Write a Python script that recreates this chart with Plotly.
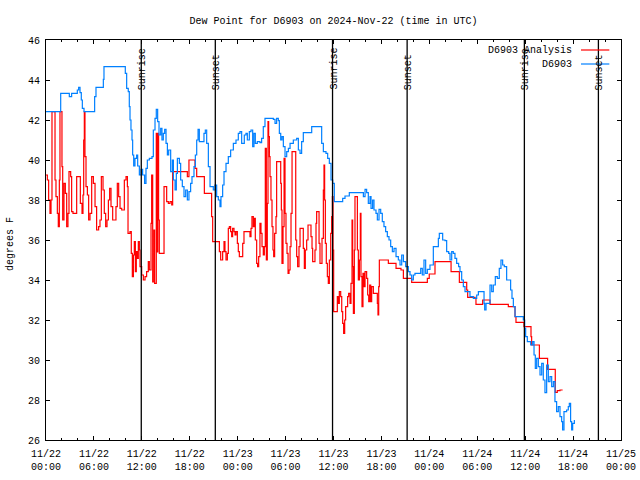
import plotly.graph_objects as go

# ---- data (hours since 2024-11-22 00:00 UTC) ----
obs_hours = [0.00, 1.84, 2.92, 3.21, 3.92, 4.09, 4.26, 4.42, 4.55, 4.76, 6.09, 6.26, 7.18, 7.26, 9.93, 10.10,
             10.30, 10.43, 10.52, 10.64, 10.77, 10.85, 10.98, 11.14, 11.35, 11.48, 11.69, 11.90, 12.10, 12.35,
             12.52, 12.69, 12.94, 13.27, 13.44, 13.65, 13.81, 13.98, 14.15, 14.36, 14.52, 14.69, 14.86, 15.03,
             15.20, 15.36, 15.61, 15.82, 15.95, 16.16, 16.32, 16.45, 16.70, 16.86, 17.07, 17.28, 17.49, 17.70,
             17.90, 18.11, 18.28, 18.53, 18.70, 18.87, 19.04, 19.20, 19.78, 19.95, 20.12, 20.33, 20.54, 20.95,
             21.16, 21.37, 21.58, 21.79, 21.91, 22.12, 22.29, 22.54, 22.83, 23.12, 23.46, 23.79, 24.08, 24.29,
             24.50, 24.83, 25.04, 25.21, 25.46, 25.67, 25.88, 26.04, 26.21, 26.46, 26.79, 27.00, 27.21, 27.42,
             28.47, 28.68, 28.88, 29.09, 29.22, 29.39, 29.55, 29.72, 29.93, 30.14, 30.35, 30.56, 30.97, 31.39,
             31.60, 31.81, 32.01, 32.22, 33.27, 34.52, 34.73, 35.06, 35.27, 35.48, 35.69, 35.90, 36.10, 37.15,
             37.44, 37.98, 39.74, 39.95, 40.15, 40.36, 40.57, 40.70, 40.90, 41.07, 41.32, 41.49, 41.70, 41.91,
             42.11, 42.32, 42.53, 42.74, 42.95, 43.16, 43.37, 43.58, 43.83, 44.12, 44.33, 44.54, 44.75, 45.04,
             45.37, 45.58, 45.79, 46.00, 46.20, 46.92, 47.12, 47.33, 47.54, 47.75, 48.08, 48.50, 49.13, 49.25,
             49.67, 49.96, 50.17, 50.42, 50.59, 50.80, 51.00, 51.21, 51.42, 51.67, 51.84, 52.05, 52.26, 52.47,
             53.09, 53.51, 53.93, 54.14, 54.85, 54.93, 55.10, 55.60, 55.81, 56.01, 56.26, 56.51, 56.76, 56.97,
             57.18, 57.39, 57.68, 58.18, 58.35, 58.52, 58.73, 59.77, 59.94, 60.06, 60.27, 60.69, 60.94, 61.11,
             61.27, 61.44, 61.65, 61.86, 62.07, 62.27, 62.48, 62.69, 62.90, 63.11, 63.32, 63.53, 63.73, 63.94,
             64.15, 64.36, 64.57, 64.69, 64.86, 65.19, 65.40, 65.53, 65.69, 65.82, 65.95, 66.16]
obs_dewpt = [42.42, 43.33, 43.17, 43.33, 43.50, 43.63, 43.37, 43.00, 42.58, 42.42, 43.17, 43.63, 44.03, 44.67, 44.33, 43.58,
             43.42, 42.67, 42.00, 41.50, 41.00, 40.25, 39.70, 40.08, 40.25, 39.70, 39.25, 39.53, 39.25, 38.83,
             39.58, 40.00, 40.08, 40.17, 41.50, 42.08, 42.53, 41.92, 41.25, 41.58, 41.00, 41.33, 41.53, 40.83,
             40.25, 40.50, 39.42, 40.00, 39.00, 38.50, 39.33, 40.08, 39.83, 39.00, 38.67, 38.17, 38.50, 38.00,
             38.42, 38.83, 39.17, 39.67, 40.25, 41.00, 41.53, 40.92, 41.33, 41.50, 40.83, 39.67, 38.67, 38.50,
             38.75, 38.17, 38.00, 37.67, 38.17, 38.75, 39.42, 39.83, 40.17, 40.50, 40.83, 41.00, 41.33, 41.42,
             40.83, 41.25, 41.33, 41.00, 41.42, 41.50, 40.67, 41.33, 40.83, 40.92, 40.87, 41.08, 41.67, 42.08,
             42.03, 41.83, 42.08, 41.97, 41.33, 41.00, 41.17, 40.67, 40.17, 40.42, 40.58, 40.83, 41.00, 41.08,
             40.50, 40.33, 40.92, 41.37, 41.67, 40.83, 40.42, 40.33, 40.08, 39.83, 39.00, 38.83, 37.92, 38.08,
             38.20, 38.37, 38.17, 38.53, 38.37, 37.83, 38.17, 37.58, 38.00, 37.50, 37.33, 37.00, 37.53, 37.33,
             36.92, 36.67, 36.42, 36.17, 36.00, 35.67, 35.42, 35.58, 35.17, 35.00, 34.75, 35.25, 34.92, 34.67,
             34.42, 34.25, 34.00, 34.25, 34.33, 34.58, 34.25, 35.00, 34.33, 34.53, 34.75, 35.67, 36.08, 36.33,
             36.00, 35.97, 35.42, 35.33, 35.00, 35.42, 35.33, 35.08, 34.83, 34.67, 34.42, 34.00, 33.67, 33.42,
             33.17, 33.08, 33.25, 33.42, 32.83, 32.50, 32.83, 33.75, 33.42, 33.75, 34.17, 34.08, 34.58, 35.00,
             34.75, 34.67, 34.00, 33.50, 33.08, 32.67, 32.17, 32.00, 31.58, 31.17, 30.92, 30.75, 30.92, 30.25,
             29.58, 30.08, 29.67, 29.25, 29.83, 29.00, 28.37, 29.75, 28.92, 29.17, 28.67, 28.92, 27.92, 27.42,
             27.67, 27.17, 26.92, 26.50, 27.42, 27.50, 27.67, 27.83, 26.92, 26.50, 26.83, 27.00]

ana_hours = [0.00, 0.17, 0.33, 0.50, 0.63, 0.75, 1.13, 1.25, 1.42, 1.54, 1.67, 1.75, 2.00, 2.09, 2.25, 2.42, 2.59,
             2.75, 2.88, 3.09, 3.21, 3.38, 3.84, 4.30, 4.51, 4.63, 4.72, 4.80, 4.88, 5.01, 5.18, 5.34, 5.51, 5.72,
             5.93, 6.14, 6.34, 6.59, 6.76, 6.93, 7.14, 7.30, 7.47, 7.64, 7.81, 7.97, 8.14, 8.35, 8.76, 8.93, 9.10,
             9.27, 9.48, 9.81, 10.02, 10.19, 10.27, 10.52, 10.68, 10.81, 10.94, 11.06, 11.19, 11.31, 11.44, 11.56,
             11.69, 11.77, 11.98, 12.19, 12.40, 12.60, 12.81, 12.94, 13.15, 13.23, 13.36, 13.52, 13.60, 13.81,
             13.90, 14.00, 14.10, 14.19, 14.78, 15.11, 15.32, 15.53, 15.74, 15.86, 17.70, 17.90, 18.66, 18.87,
             19.83, 20.74, 20.87, 21.71, 21.87, 22.12, 22.29, 22.41, 22.54, 22.71, 22.83, 22.96, 23.12, 23.25,
             23.37, 23.54, 23.67, 23.79, 23.96, 24.08, 24.21, 24.63, 24.79, 25.54, 25.67, 25.79, 25.96, 26.09,
             26.21, 26.38, 26.50, 26.63, 26.79, 26.92, 27.05, 27.21, 27.34, 27.46, 27.59, 27.71, 27.80, 27.88,
             27.97, 28.05, 28.17, 28.30, 28.42, 28.51, 28.63, 28.80, 28.88, 29.39, 29.47, 29.55, 29.68, 29.81,
             29.93, 30.05, 30.18, 30.31, 30.43, 30.56, 30.68, 30.81, 31.27, 31.39, 31.51, 31.68, 31.81, 32.22,
             32.35, 32.47, 32.64, 32.81, 33.18, 33.31, 33.39, 33.68, 33.81, 33.89, 34.19, 34.31, 34.56, 34.73,
             34.81, 34.89, 34.98, 35.10, 35.23, 35.35, 35.48, 35.65, 35.77, 35.86, 35.94, 36.02, 36.48, 36.61,
             36.73, 36.90, 37.03, 37.15, 37.27, 37.40, 37.52, 37.77, 37.90, 38.07, 38.19, 38.32, 38.40, 38.49,
             38.61, 38.69, 38.99, 39.11, 39.24, 39.36, 39.44, 39.57, 39.69, 39.82, 39.95, 40.15, 40.28, 40.41,
             40.53, 40.66, 40.78, 40.99, 41.49, 41.57, 41.66, 41.74, 42.87, 43.83, 44.45, 44.75, 45.79, 47.75,
             47.99, 48.71, 50.72, 51.76, 52.68, 52.80, 53.72, 53.84, 54.68, 55.60, 57.89, 58.73, 58.85, 59.85,
             60.73, 60.81, 61.78, 62.81, 63.77, 64.02, 64.36, 64.69]
ana_dewpt = [39.25, 39.00, 38.00, 37.33, 38.00, 42.42, 39.00, 38.17, 37.33, 36.67, 39.00, 42.42, 39.67, 37.00, 38.83, 38.33, 36.67,
             37.33, 39.42, 39.17, 37.42, 37.33, 39.17, 37.83, 37.33, 38.25, 41.00, 42.42, 40.17, 38.67, 38.25, 37.00, 37.33, 39.17,
             38.83, 37.67, 36.50, 36.67, 37.00, 39.17, 38.50, 37.33, 36.67, 37.00, 38.00, 38.58, 37.67, 37.00, 37.67, 38.83, 38.17,
             37.58, 37.50, 39.00, 39.17, 38.67, 36.33, 36.42, 35.33, 34.17, 35.25, 35.92, 34.42, 35.42, 35.08, 35.92,
             35.50, 34.67, 34.25, 34.00, 34.17, 34.42, 34.92, 34.50, 36.83, 39.25, 33.90, 36.50, 33.83, 41.33,
             35.40, 41.33, 37.00, 35.33, 38.67, 37.92, 37.83, 37.92, 37.75, 39.42, 39.17, 40.00, 39.58, 39.17,
             38.33, 37.17, 35.92, 35.42, 35.00, 35.42, 35.92, 35.42, 35.00, 35.33, 36.58, 36.67, 36.42, 36.17,
             36.58, 36.42, 36.25, 36.42, 35.83, 35.42, 35.17, 35.83, 36.42, 36.17, 36.58, 37.17, 36.67, 37.08,
             36.00, 34.83, 34.67, 35.17, 36.83, 36.33, 35.67, 35.25, 35.67, 40.58, 35.00, 37.83, 41.92, 41.17,
             40.17, 39.17, 38.00, 36.67, 35.50, 35.17, 36.33, 37.17, 39.92, 38.83, 37.50, 34.83, 36.67, 40.08,
             37.33, 35.83, 35.33, 34.33, 34.50, 35.67, 37.33, 40.42, 36.00, 35.17, 34.67, 35.67, 36.58, 35.58,
             34.58, 35.50, 36.00, 36.75, 36.17, 35.58, 34.92, 35.50, 36.83, 37.42, 35.83, 34.83, 36.08, 38.50,
             39.75, 38.00, 35.83, 34.83, 34.17, 33.83, 35.00, 36.33, 37.17, 38.17, 35.50, 32.42, 33.17, 32.83,
             33.42, 33.17, 32.42, 31.83, 31.33, 32.00, 32.67, 33.17, 33.33, 32.83, 33.83, 37.00, 34.67, 32.33,
             35.50, 38.17, 35.50, 34.00, 35.00, 37.33, 34.17, 32.67, 34.33, 33.67, 34.42, 34.08, 33.25, 32.92,
             33.75, 32.92, 33.67, 33.33, 32.83, 32.25, 33.67, 35.00, 34.83, 34.58, 34.50, 34.08, 33.88, 34.08,
             34.30, 34.92, 34.42, 33.88, 33.50, 33.13, 33.08, 32.78, 33.00, 32.78, 32.67, 32.17, 31.88, 31.67,
             31.17, 30.75, 30.08, 29.53, 28.38, 28.47, 28.50, 28.50]

sunrise_hours = [11.93, 35.88, 59.90]
sunset_hours = [21.20, 45.22, 69.17]

tick_hours = list(range(0, 73, 6))
tick_labels = ["11/22<br>00:00", "11/22<br>06:00", "11/22<br>12:00", "11/22<br>18:00",
               "11/23<br>00:00", "11/23<br>06:00", "11/23<br>12:00", "11/23<br>18:00",
               "11/24<br>00:00", "11/24<br>06:00", "11/24<br>12:00", "11/24<br>18:00",
               "11/25<br>00:00"]

title_text = "Dew Point for D6903 on 2024-Nov-22 (time in UTC)"
series_names = ["D6903 Analysis", "D6903"]
colors = ["#ff0000", "#0080ff"]

FONT = "Liberation Mono"

fig = go.Figure()
fig.add_trace(go.Scatter(x=ana_hours, y=ana_dewpt, mode="lines", line_shape="hv",
                         line=dict(color=colors[0], width=1.2), name=series_names[0], showlegend=False))
fig.add_trace(go.Scatter(x=obs_hours, y=obs_dewpt, mode="lines", line_shape="hv",
                         line=dict(color=colors[1], width=1.2), name=series_names[1], showlegend=False))

for label, times in (("Sunrise", sunrise_hours), ("Sunset", sunset_hours)):
    for t in times:
        fig.add_shape(type="line", xref="x", yref="paper", x0=t, x1=t, y0=0, y1=1,
                      line=dict(color="black", width=1.3), layer="above")
        fig.add_annotation(x=t, xref="x", y=0.87, yref="paper", text=label, textangle=-90,
                           showarrow=False, xanchor="center", yanchor="bottom", xshift=1,
                           font=dict(family=FONT, size=10, color="black"))

# manual legend (text left of the line sample, as in gnuplot)
leg_y = [0.975, 0.940]
for name, col, yy in zip(series_names, colors, leg_y):
    fig.add_annotation(x=0.918, xref="paper", y=yy, yref="paper", text=name, showarrow=False,
                       xanchor="right", yanchor="middle", font=dict(family=FONT, size=10, color="black"))
    fig.add_shape(type="line", xref="paper", yref="paper", x0=0.9304, x1=0.9797, y0=yy, y1=yy,
                  line=dict(color=col, width=1.2))

fig.add_annotation(x=-0.0626, xref="paper", y=0.49, yref="paper", text="degrees F", textangle=-90,
                   showarrow=False, xanchor="center", yanchor="middle",
                   font=dict(family=FONT, size=10, color="black"))

fig.update_layout(
    width=640, height=480,
    margin=dict(l=46, r=19, t=40, b=40, autoexpand=False),
    paper_bgcolor="white", plot_bgcolor="white",
    title=dict(text=title_text, x=0.5, xref="paper", y=1 - 20 / 480, yref="container",
               xanchor="center", yanchor="middle", font=dict(family=FONT, size=10, color="black")),
    font=dict(family=FONT, size=10, color="black"),
    showlegend=False,
)
fig.update_xaxes(range=[0, 72], tickvals=tick_hours, ticktext=tick_labels, ticks="inside", ticklen=4,
                 tickcolor="black", showline=True, linecolor="black", linewidth=1, mirror="ticks",
                 showgrid=False, zeroline=False, ticklabelstandoff=4, automargin=False,
                 minor=dict(dtick=2, ticks="inside", ticklen=2, tickcolor="black", showgrid=False),
                 tickfont=dict(family=FONT, size=10, color="black"))
fig.update_yaxes(range=[26, 46], dtick=2, ticks="inside", ticklen=4, tickcolor="black",
                 showline=True, linecolor="black", linewidth=1, mirror="ticks",
                 showgrid=False, zeroline=False, ticklabelstandoff=3, automargin=False,
                 tickfont=dict(family=FONT, size=10, color="black"))

fig.write_html("out.html", config={"displayModeBar": False},
               post_script="document.body.style.margin='0';")
